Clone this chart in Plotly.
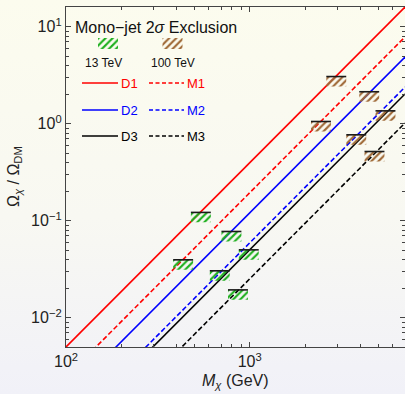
import urllib.parse
import plotly.graph_objects as go

# ---- relic-abundance curves: Omega_chi / Omega_DM vs M_chi (power law, straight on log-log)
curve_names = ["D1", "M1", "D2", "M2", "D3", "M3"]
curve_colors = ["#ff0000", "#ff0000", "#0000ff", "#0000ff", "#000000", "#000000"]
curve_dashed = [False, True, False, True, False, True]
mass_ends = [100, 7000]                       # GeV
omega_at_low = [0.005, 0.00245, 0.00152, 0.000745, 0.000632, 0.000317]
omega_at_high = [16.0, 7.86, 4.87, 2.39, 2.03, 1.02]

# ---- mono-jet 2 sigma exclusion limits (one per curve, same order)
limit_13_mass = [542, 434, 795, 988, 687, 863]
limit_13_omega = [0.122, 0.0396, 0.0776, 0.0502, 0.0305, 0.0194]
limit_100_mass = [2958, 2442, 4470, 3800, 5480, 4775]
limit_100_omega = [3.07, 1.056, 2.14, 0.770, 1.36, 0.518]

# ---- axis ticks
x_major = [100, 1000]
x_major_text = ["10<sup>2</sup>", "10<sup>3</sup>"]
y_major = [0.01, 0.1, 1, 10]
y_major_text = ["10<sup>\u22122</sup>", "10<sup>\u22121</sup>", "10<sup>0</sup>", "10<sup>1</sup>"]
x_minor = [m * d for d in (100, 1000) for m in range(2, 10)]
y_minor = [m * d for d in (0.001, 0.01, 0.1, 1, 10) for m in range(2, 10)]

GREEN = "#1fb01f"
BROWN = "#a06a38"
FONT = "Liberation Sans, Arial, sans-serif"
W, H = 405, 394
ML, MR, MT, MB = 66, 0, 7, 47
PW, PH = W - ML - MR, H - MT - MB

# marker geometry (multiplicative, log axes)
HALF_W = 1.133
DEPTH = 0.79

fig = go.Figure()

for name, col, dashed, lo, hi in zip(curve_names, curve_colors, curve_dashed,
                                     omega_at_low, omega_at_high):
    fig.add_trace(go.Scatter(
        x=mass_ends, y=[lo, hi], mode="lines", name=name,
        line=dict(color=col, width=1.6, dash="5px,2.5px" if dashed else "solid"),
        showlegend=False, hoverinfo="skip"))

HATCH = dict(shape="/", bgcolor="rgba(0,0,0,0)", size=5, solidity=0.42, fgopacity=1)


def limit_traces(masses, omegas, color):
    hx, hy, bx, by = [], [], [], []
    for m, o in zip(masses, omegas):
        x0, x1 = m / HALF_W, m * HALF_W
        hx += [x0, x1, x1, x0, x0, None]
        hy += [o, o, o * DEPTH, o * DEPTH, o, None]
        bx += [x0, x1, None]
        by += [o, o, None]
    hatch = go.Scatter(
        x=hx, y=hy, mode="lines", fill="toself", line=dict(width=0, color=color),
        fillcolor="rgba(0,0,0,0)", fillpattern=dict(fgcolor=color, **HATCH),
        showlegend=False, hoverinfo="skip")
    bar = go.Scatter(x=bx, y=by, mode="lines", line=dict(color="#1a1a1a", width=1.6),
                     showlegend=False, hoverinfo="skip")
    return [hatch, bar]


for t in limit_traces(limit_13_mass, limit_13_omega, GREEN):
    fig.add_trace(t)
for t in limit_traces(limit_100_mass, limit_100_omega, BROWN):
    fig.add_trace(t)


# ---- inset key drawn on a hidden unit-square overlay axis
def fx(px):
    return (px - ML) / PW


def fy(py):
    return (MT + PH - py) / PH


for x0, x1, col in [(98, 118, GREEN), (162.5, 182.5, BROWN)]:
    fig.add_trace(go.Scatter(
        x=[fx(x0), fx(x1), fx(x1), fx(x0), fx(x0)],
        y=[fy(38), fy(38), fy(49), fy(49), fy(38)],
        xaxis="x2", yaxis="y2", mode="lines", fill="toself",
        line=dict(width=0, color=col), fillcolor="rgba(0,0,0,0)",
        fillpattern=dict(fgcolor=col, **HATCH),
        showlegend=False, hoverinfo="skip"))

annotations = []
rows_y = [83, 110, 136]
for i, ry in enumerate(rows_y):
    for j, (sx0, sx1, tx) in enumerate([(82, 118, 119), (149, 184, 184.5)]):
        k = 2 * i + j
        fig.add_trace(go.Scatter(
            x=[fx(sx0), fx(sx1)], y=[fy(ry), fy(ry)], xaxis="x2", yaxis="y2",
            mode="lines",
            line=dict(color=curve_colors[k], width=1.6,
                      dash="4px,2.5px" if curve_dashed[k] else "solid"),
            showlegend=False, hoverinfo="skip"))
        annotations.append(dict(
            x=fx(tx), y=fy(ry), xref="x2", yref="y2", text=curve_names[k],
            showarrow=False, xanchor="left", yanchor="middle",
            font=dict(family=FONT, size=13, color=curve_colors[k])))

annotations += [
    dict(x=fx(73), y=fy(27), xref="x2", yref="y2",
         text="Mono\u2212jet 2<i>\u03c3</i> Exclusion", showarrow=False,
         xanchor="left", yanchor="middle",
         font=dict(family=FONT, size=16, color="#111111")),
    dict(x=fx(103), y=fy(63), xref="x2", yref="y2", text="13 TeV",
         showarrow=False, xanchor="center", yanchor="middle",
         font=dict(family=FONT, size=12, color="#111111")),
    dict(x=fx(173), y=fy(63), xref="x2", yref="y2", text="100 TeV",
         showarrow=False, xanchor="center", yanchor="middle",
         font=dict(family=FONT, size=12, color="#111111")),
    # axis titles (paper coords are relative to the plotting area)
    dict(x=fx(14), y=fy(MT + PH / 2), xref="paper", yref="paper",
         text="\u03a9<sub><i>\u03c7</i></sub> / \u03a9<sub>DM</sub>",
         textangle=-90, showarrow=False, xanchor="center", yanchor="middle",
         font=dict(family=FONT, size=16, color="#222222")),
    dict(x=fx(ML + PW / 2), y=fy(381), xref="paper", yref="paper",
         text="<i>M</i><sub><i>\u03c7</i></sub> (GeV)",
         showarrow=False, xanchor="center", yanchor="middle",
         font=dict(family=FONT, size=16, color="#222222")),
]

# soft vertical gradient behind everything
svg = (f"<svg xmlns='http://www.w3.org/2000/svg' width='{W}' height='{H}'>"
       "<defs><linearGradient id='g' x1='0' y1='0' x2='0' y2='1'>"
       "<stop offset='0' stop-color='#fcfcee'/>"
       "<stop offset='0.55' stop-color='#f8f8f2'/>"
       "<stop offset='1' stop-color='#f1f1f8'/>"
       "</linearGradient></defs>"
       f"<rect width='{W}' height='{H}' fill='url(#g)'/></svg>")
bg_src = "data:image/svg+xml;charset=utf-8," + urllib.parse.quote(svg)


def log_axis(major, major_text, minor, rng):
    return dict(
        type="log", range=rng, showgrid=False, zeroline=False,
        showline=True, linecolor="#444444", linewidth=1.3, mirror="allticks",
        ticks="inside", ticklen=5, tickwidth=1, tickcolor="#444444",
        tickmode="array", tickvals=major, ticktext=major_text,
        tickfont=dict(family=FONT, size=16, color="#222222"),
        minor=dict(ticks="inside", ticklen=3, tickwidth=1, tickcolor="#444444",
                   tickmode="array", tickvals=minor, showgrid=False),
    )


fig.update_layout(
    width=W, height=H,
    margin=dict(l=ML, r=MR, t=MT, b=MB, autoexpand=False),
    paper_bgcolor="#f8f8f2", plot_bgcolor="rgba(0,0,0,0)",
    xaxis=log_axis(x_major, x_major_text, x_minor, [2, 3.8451]),
    yaxis=log_axis(y_major, y_major_text, y_minor, [-2.30103, 1.20412]),
    xaxis2=dict(overlaying="x", range=[0, 1], visible=False, fixedrange=True),
    yaxis2=dict(overlaying="y", range=[0, 1], visible=False, fixedrange=True),
    annotations=annotations,
    images=[dict(source=bg_src, xref="paper", yref="paper",
                 x=-ML / PW, y=1 + MT / PH, sizex=W / PW, sizey=H / PH,
                 xanchor="left", yanchor="top", sizing="stretch", layer="below")],
    showlegend=False,
)

fig.write_html("out.html")
